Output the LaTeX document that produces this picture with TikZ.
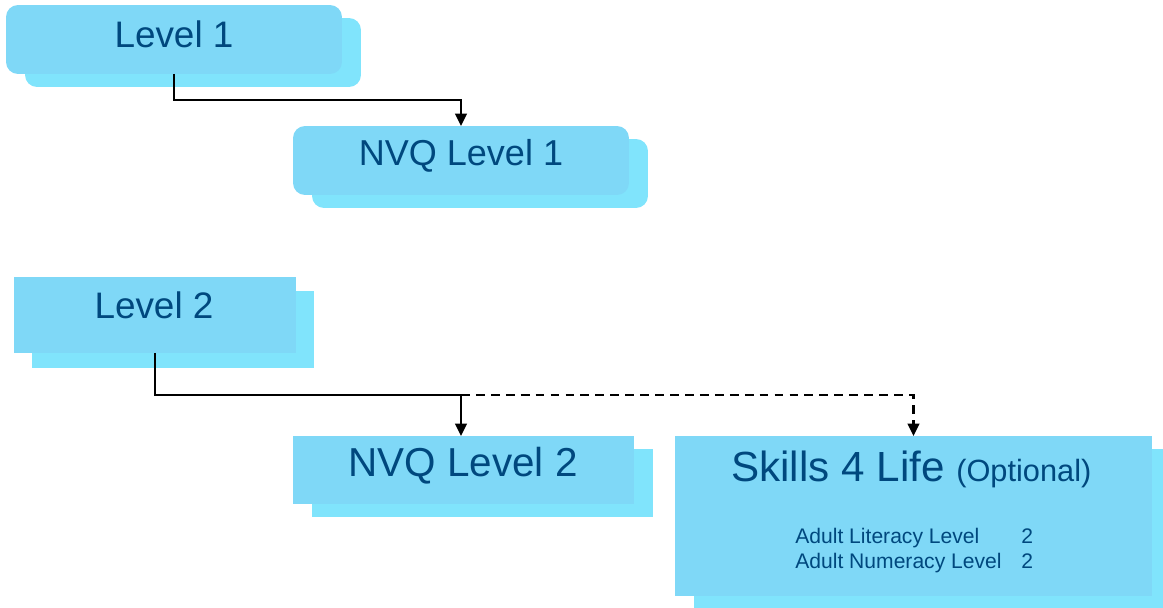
\documentclass[tikz,border=0pt]{standalone}
\usepackage{fontspec}
\setmainfont{Liberation Sans}
\usepackage{xcolor}
\usetikzlibrary{arrows.meta}
\definecolor{boxfront}{HTML}{7FD8F7}
\definecolor{boxback}{HTML}{80E4FC}
\definecolor{boxtext}{HTML}{00487E}
\tikzset{
x=0.02cm, y=-0.02cm, % one unit is one pixel of the slide
>={Triangle[length=7pt,width=6.5pt]}, % filled arrow heads
link/.style={->, line width=1.3pt}, % the connectors
front/.style={fill=boxfront, inner sep=0pt, outer sep=0pt}, % upper box
back/.style={fill=boxback, inner sep=0pt, outer sep=0pt}, % shadow box behind it
boxlbl/.style={text=boxtext, inner sep=0pt}, % text in the boxes
}

\begin{document}
\begin{tikzpicture}
        \useasboundingbox (0,0) rectangle (1163,608);

        % shadow boxes
        \node[back, rounded corners=0.24cm, minimum width=6.72cm, minimum height=1.38cm] (l1b) at (193,52.5) {};
        \node[back, rounded corners=0.24cm, minimum width=6.72cm, minimum height=1.38cm] (n1b) at (480,173.5) {};
        \node[back, minimum width=5.64cm, minimum height=1.54cm] (l2b) at (173,329.5) {};
        \node[back, minimum width=6.82cm, minimum height=1.36cm] (n2b) at (482.5,483) {};
        \node[back, minimum width=9.54cm, minimum height=3.2cm] (s4lb) at (932.5,529) {};

        % front boxes
        \node[front, rounded corners=0.24cm, minimum width=6.72cm, minimum height=1.38cm] (l1) at (174,39.5) {};
        \node[front, rounded corners=0.24cm, minimum width=6.72cm, minimum height=1.38cm] (n1) at (461,160.5) {};
        \node[front, minimum width=5.64cm, minimum height=1.52cm] (l2) at (155,315) {};
        \node[front, minimum width=6.82cm, minimum height=1.36cm] (n2) at (463.5,470) {};
        \node[front, minimum width=9.54cm, minimum height=3.2cm] (s4l) at (913.5,516) {};

        % texts
        \node[boxlbl, font=\fontsize{21}{25}\selectfont] (l1t) at (174,34) {Level 1};
        \node[boxlbl, font=\fontsize{20.5}{25}\selectfont] (n1t) at (461,156) {NVQ Level 1};
        \node[boxlbl, font=\fontsize{21}{25}\selectfont] (l2t) at (154,305) {Level 2};
        \node[boxlbl, font=\fontsize{23}{28}\selectfont] (n2t) at (463,466) {NVQ Level 2};
        \node[boxlbl, font=\fontsize{24}{28}\selectfont, anchor=base west] (s4lt) at (731,481) {Skills 4 Life \fontsize{17.5}{20}\selectfont(Optional)};
        \node[boxlbl, font=\fontsize{12}{15}\selectfont, anchor=base west] (alit) at (795,543) {Adult Literacy Level};
        \node[boxlbl, font=\fontsize{12}{15}\selectfont, anchor=base west] (anum) at (795,568) {Adult Numeracy Level};
        \node[boxlbl, font=\fontsize{12}{15}\selectfont, anchor=base west] (alit2) at (1021,543) {2};
        \node[boxlbl, font=\fontsize{12}{15}\selectfont, anchor=base west] (anum2) at (1021,568) {2};

        % connectors
        \path (n2.north) ++(-2.5,-41) coordinate (j2);
        \draw[link] (l1.south) -- ++(0,26) -| (n1.north);
        \draw[link] (l2.south) |- (j2) -- (j2 |- n2.north);
        \draw[link, dash pattern=on 5pt off 3.5pt] (j2) -| (s4l.north);
    \end{tikzpicture}
\end{document}
